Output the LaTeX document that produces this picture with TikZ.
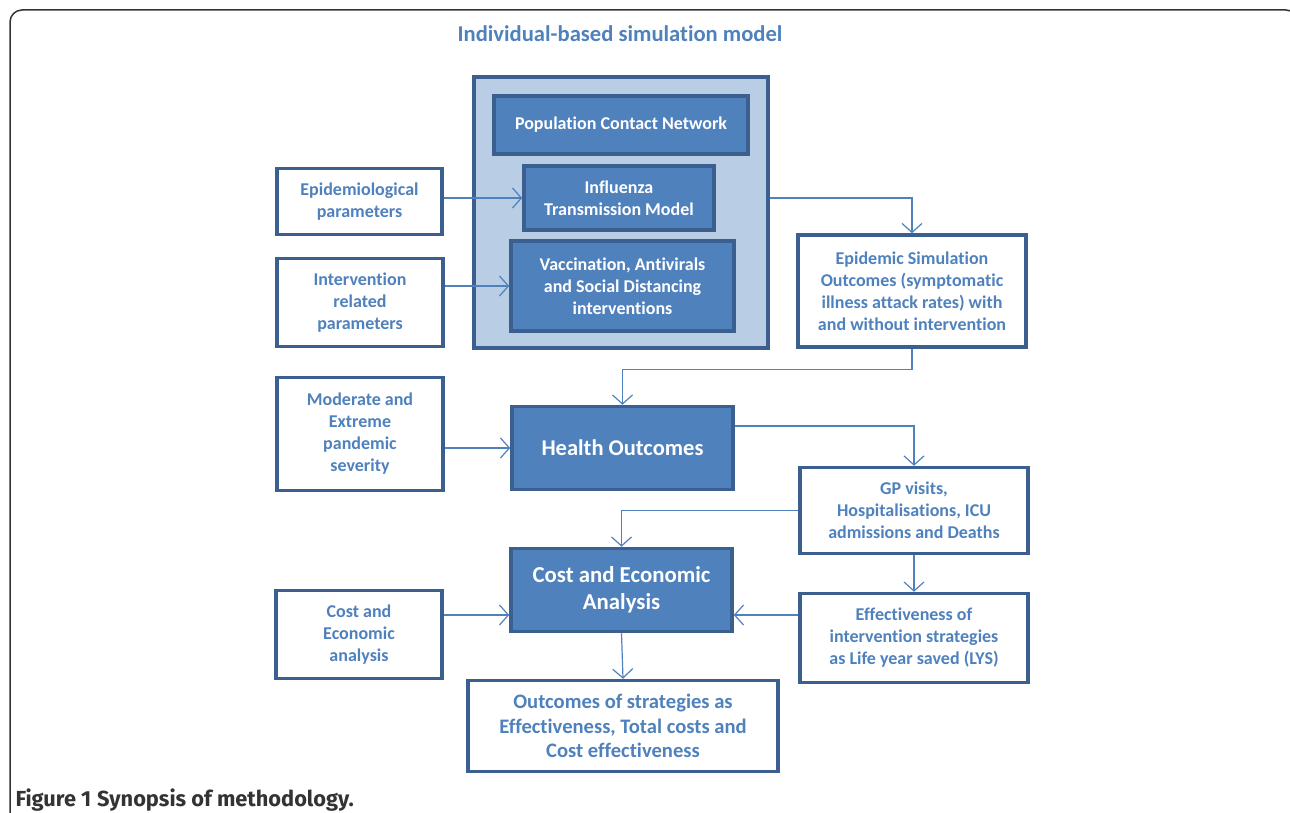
\documentclass[tikz,border=0pt]{standalone}
\usepackage{fontspec}
\setmainfont{Carlito}[Ligatures=NoCommon]
\newfontfamily\capfont{Fira Sans}
\usetikzlibrary{arrows.meta}
\definecolor{txtblue}{HTML}{4F81BD}
\definecolor{edgeblue}{HTML}{3B5F8E}
\definecolor{lightblue}{HTML}{B9CDE5}
\definecolor{framegray}{HTML}{333333}
\tikzset{
  outbox/.style={draw=edgeblue, line width=3.5pt, fill=white, text=txtblue,
    align=center, font=\fontsize{18}{22}\selectfont\bfseries, inner sep=0pt},
  inbox/.style={draw=edgeblue, line width=3.5pt, fill=txtblue, text=white,
    align=center, font=\fontsize{18}{22}\selectfont\bfseries, inner sep=0pt},
  bigbox/.style={draw=edgeblue, line width=3.5pt, fill=lightblue, inner sep=0pt},
  arr/.style={draw=txtblue, line width=1.2pt, -{Straight Barb[length=9pt,width=20pt,line width=1.2pt]}}
}
\begin{document}
\begin{tikzpicture}[x=1pt,y=-1pt]
        \useasboundingbox (0,0) rectangle (1290,813);
        \draw[framegray, line width=1.5pt, rounded corners=12pt] (10,850) -- (10,10) -- (1298,10) -- (1298,850);
        % title
        \node[text=txtblue, font=\fontsize{22.6}{26}\selectfont\bfseries] (title) at (620,34) {Individual-based simulation model};
        % simulation model block
        \node[bigbox, minimum width=294, minimum height=271] (big) at (621,212.5) {};
        \node[inbox, minimum width=254, minimum height=58] (pop) at (621,125) {Population Contact Network};
        \node[inbox, minimum width=190, minimum height=64] (flu) at (619,198) {Influenza\\Transmission Model};
        \node[inbox, minimum width=223, minimum height=90] (vac) at (622.5,286) {Vaccination, Antivirals\\and Social Distancing\\interventions};
        % inputs
        \node[outbox, minimum width=165, minimum height=66] (epi) at (359.5,201.5) {Epidemiological\\parameters};
        \node[outbox, minimum width=166, minimum height=88] (intp) at (360,302.5) {Intervention\\related\\parameters};
        \node[outbox, minimum width=166, minimum height=113] (sev) at (360,434) {Moderate and\\Extreme\\pandemic\\severity};
        \node[outbox, minimum width=166, minimum height=88] (costp) at (359,634.5) {Cost and\\Economic\\analysis};
        % outcomes
        \node[outbox, minimum width=228, minimum height=112] (esim) at (912,291) {Epidemic Simulation\\Outcomes (symptomatic\\illness attack rates) with\\and without intervention};
        \node[inbox, minimum width=221, minimum height=83, font=\fontsize{22.5}{27}\selectfont\bfseries] (hout) at (622.5,448) {Health Outcomes};
        \node[outbox, minimum width=228, minimum height=86] (gp) at (914,510.5) {GP visits,\\Hospitalisations, ICU\\admissions and Deaths};
        \node[inbox, minimum width=221, minimum height=83, font=\fontsize{22.8}{27}\selectfont\bfseries] (cost) at (621.5,590) {Cost and Economic\\Analysis};
        \node[outbox, minimum width=228, minimum height=89] (eff) at (914,638) {Effectiveness of\\intervention strategies\\as Life year saved (LYS)};
        \node[outbox, minimum width=310, minimum height=91, font=\fontsize{20.6}{24.5}\selectfont\bfseries] (res) at (623,726) {Outcomes of strategies as\\Effectiveness, Total costs and\\Cost effectiveness};
        % connectors
        \coordinate (ca) at (0,615);
        \draw[arr] (epi.east |- flu) -- (flu.west);
        \draw[arr] (intp.east |- vac) -- (vac.west);
        \draw[arr] (big.east |- flu) -| (esim.north);
        \draw[arr] (esim.south) -- ++(0,21) -| (hout.north);
        \draw[arr] (sev.east |- hout) -- (hout.west);
        \draw[arr] ([yshift=22pt]hout.east) -| (gp.north);
        \draw[arr] (gp.west) -| (cost.north);
        \draw[arr] (gp.south) -- (eff.north);
        \draw[arr] (eff.west |- ca) -- (cost.east |- ca);
        \draw[arr] (costp.east |- ca) -- (cost.west |- ca);
        \draw[arr] (cost.south) -- (res.north);
        % caption
        \node[anchor=west, text=framegray, font=\capfont\fontsize{21.8}{24}\selectfont] (cap) at (12,800) {\textbf{Figure 1} \textbf{Synopsis of methodology.}};
\end{tikzpicture}
\end{document}
